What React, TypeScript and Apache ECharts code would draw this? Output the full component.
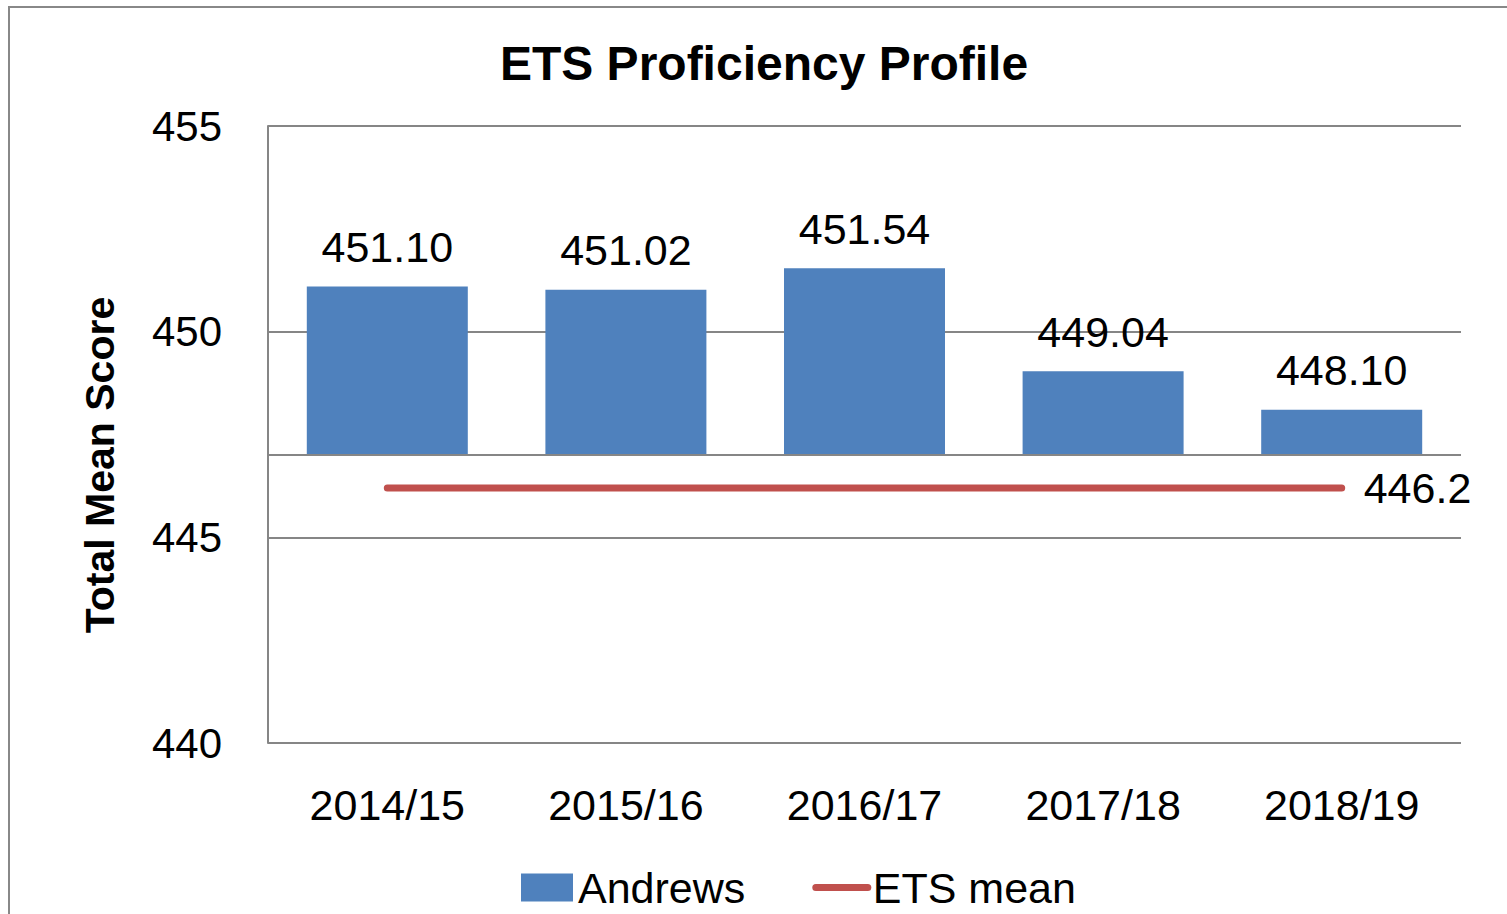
import React, { useEffect, useRef } from "react";
import * as echarts from "echarts";

const categories = ["2014/15", "2015/16", "2016/17", "2017/18", "2018/19"];
const andrewsScores = [451.1, 451.02, 451.54, 449.04, 448.1];
const etsMean = [446.2, 446.2, 446.2, 446.2, 446.2];
const barBase = 447;
const yMin = 440;
const yMax = 455;
const yInterval = 5;

const FONT = "'Liberation Sans', Arial, sans-serif";
const GRAY = "#868686";

export default function App() {
  const ref = useRef<HTMLDivElement>(null);

  useEffect(() => {
    if (!ref.current) return;
    const chart = echarts.init(ref.current, null, { renderer: "svg" });
    chart.setOption({
      animation: false,
      backgroundColor: "#ffffff",
      textStyle: { fontFamily: FONT },
      title: {
        text: "ETS Proficiency Profile",
        left: 759,
        textAlign: "center",
        top: 34,
        textStyle: { fontFamily: FONT, fontSize: 48, fontWeight: "bold", color: "#000" },
      },
      graphic: [
        {
          type: "rect",
          silent: true,
          z: -10,
          shape: { x: 9, y: 7, width: 1520, height: 930 },
          style: { fill: "none", stroke: "#888888", lineWidth: 2 },
        },
        {
          type: "text",
          x: 100,
          y: 465,
          rotation: Math.PI / 2,
          style: {
            text: "Total Mean Score",
            fontFamily: FONT,
            fontSize: 41,
            fontWeight: "bold",
            fill: "#000",
            textAlign: "center",
            textVerticalAlign: "middle",
          },
        },
      ],
      legend: {
        data: [
          { name: "Andrews", icon: "rect" },
          {
            name: "ETS mean",
            itemStyle: { opacity: 0 },
            lineStyle: { width: 7, cap: "round", color: "#C0504D" },
          },
        ],
        left: 516,
        top: 861,
        itemWidth: 52,
        itemHeight: 28,
        itemGap: 67,
        textStyle: { fontFamily: FONT, fontSize: 43, color: "#000" },
      },
      grid: { left: 268, right: 46, top: 126, bottom: 171 },
      xAxis: {
        type: "category",
        data: categories,
        axisLine: { show: false },
        axisTick: { show: false },
        axisLabel: { fontFamily: FONT, fontSize: 43, color: "#000", margin: 40 },
      },
      yAxis: {
        type: "value",
        min: yMin,
        max: yMax,
        interval: yInterval,
        axisLine: { show: true, lineStyle: { color: GRAY, width: 2 } },
        axisTick: { show: false },
        axisLabel: { fontFamily: FONT, fontSize: 42, color: "#000", margin: 46 },
        splitLine: { show: true, lineStyle: { color: GRAY, width: 2 } },
      },
      series: [
        {
          name: "base",
          type: "bar",
          stack: "a",
          barWidth: 161,
          silent: true,
          data: categories.map(() => barBase),
          itemStyle: { color: "rgba(0,0,0,0)" },
          markLine: {
            silent: true,
            symbol: "none",
            label: { show: false },
            lineStyle: { color: GRAY, width: 2, type: "solid" },
            data: [{ yAxis: barBase }],
          },
        },
        {
          name: "Andrews",
          type: "bar",
          stack: "a",
          barWidth: 161,
          data: andrewsScores.map((v) => +(v - barBase).toFixed(2)),
          itemStyle: { color: "#4F81BD" },
          label: {
            show: true,
            position: "top",
            distance: 18,
            fontFamily: FONT,
            fontSize: 43,
            color: "#000",
            formatter: (p: any) => andrewsScores[p.dataIndex].toFixed(2),
          },
        },
        {
          name: "ETS mean",
          type: "line",
          data: etsMean,
          symbol: "none",
          z: 5,
          lineStyle: { color: "#C0504D", width: 7, cap: "round" },
          itemStyle: { color: "#C0504D" },
          endLabel: {
            show: true,
            distance: 22,
            fontFamily: FONT,
            fontSize: 43,
            color: "#000",
            formatter: (p: any) => String(etsMean[p.dataIndex]),
          },
        },
      ],
    });
    return () => chart.dispose();
  }, []);

  return (
    <div
      ref={ref}
      style={{ position: "fixed", left: 0, top: 0, width: "1507px", height: "914px" }}
    />
  );
}
